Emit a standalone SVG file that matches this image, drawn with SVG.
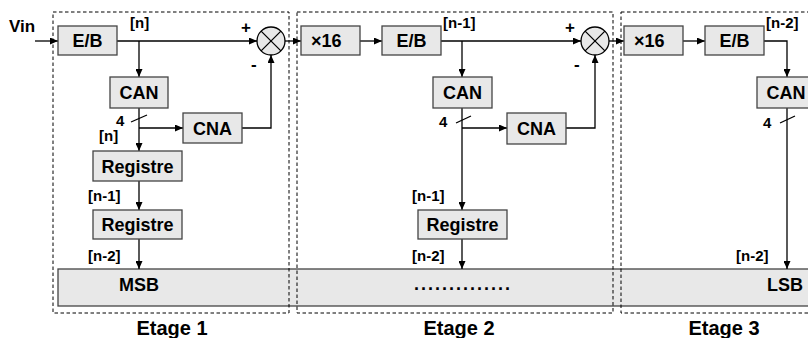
<svg xmlns="http://www.w3.org/2000/svg" width="808" height="338" viewBox="0 0 808 338">
<defs>
<marker id="ah" markerWidth="8" markerHeight="7" refX="8" refY="3.5" orient="auto" markerUnits="userSpaceOnUse">
<path d="M0,0 L8,3.5 L0,7 Z" fill="#000"/>
</marker>
<style>
.box{fill:#e8e8e8;stroke:#444;stroke-width:1.3}
.bl{font-family:"Liberation Sans",Arial,sans-serif;font-weight:bold;font-size:18px;fill:#000;text-anchor:middle}
.bs{font-family:"Liberation Sans",Arial,sans-serif;font-weight:bold;font-size:18px;fill:#000;text-anchor:start}
.lb{font-family:"Liberation Sans",Arial,sans-serif;font-weight:bold;font-size:15px;fill:#000}
.big{font-family:"Liberation Sans",Arial,sans-serif;font-weight:bold;font-size:17px;fill:#000}
.st{font-family:"Liberation Sans",Arial,sans-serif;font-weight:bold;font-size:20px;fill:#000;text-anchor:middle}
.dash{fill:none;stroke:#000;stroke-width:1;stroke-dasharray:3.5,2.5}
.c{fill:none;stroke:#000;stroke-width:1.3}
.ca{fill:none;stroke:#000;stroke-width:1.3;marker-end:url(#ah)}
.sum{fill:#e8e8e8;stroke:#000;stroke-width:1.3}
</style>
</defs>
<rect width="808" height="338" fill="#fff"/>

<g id="bus">
<rect class="box" x="58" y="269" width="770" height="37"/>
<text class="bl" x="139" y="291">MSB</text>
<text class="bl" x="463" y="290" style="letter-spacing:2px">..............</text>
<text class="bl" x="785" y="291">LSB</text>
</g>

<g id="stages">
<rect class="dash" x="53" y="12" width="236" height="301"/>
<rect class="dash" x="297" y="12" width="316" height="301"/>
<rect class="dash" x="621" y="12" width="210" height="301"/>
<text class="st" x="172" y="335">Etage 1</text>
<text class="st" x="459" y="335">Etage 2</text>
<text class="st" x="724" y="335">Etage 3</text>
</g>

<g id="connectors">
<line class="ca" x1="35" y1="41" x2="58" y2="41"/>
<line class="ca" x1="117" y1="41" x2="257" y2="41"/>
<line class="ca" x1="139" y1="41" x2="139" y2="77"/>
<line class="ca" x1="139" y1="108" x2="139" y2="151"/>
<line class="ca" x1="139" y1="128" x2="183" y2="128"/>
<polyline class="ca" points="242,128 271,128 271,55"/>
<line class="ca" x1="139" y1="181" x2="139" y2="210"/>
<line class="ca" x1="139" y1="239" x2="139" y2="269"/>
<line class="ca" x1="285" y1="41" x2="301" y2="41"/>
<line class="c" x1="131" y1="122" x2="147" y2="115"/>

<line class="ca" x1="360" y1="41" x2="382" y2="41"/>
<line class="ca" x1="441" y1="41" x2="581" y2="41"/>
<line class="ca" x1="462" y1="41" x2="462" y2="77"/>
<line class="ca" x1="462" y1="108" x2="462" y2="210"/>
<line class="ca" x1="462" y1="128" x2="507" y2="128"/>
<polyline class="ca" points="566,128 595,128 595,55"/>
<line class="ca" x1="462" y1="239" x2="462" y2="269"/>
<line class="ca" x1="609" y1="41" x2="624" y2="41"/>
<line class="c" x1="456" y1="123" x2="471" y2="116"/>

<line class="ca" x1="683" y1="41" x2="705" y2="41"/>
<polyline class="ca" points="764,41 787,41 787,77"/>
<line class="ca" x1="787" y1="108" x2="787" y2="269"/>
<line class="c" x1="780" y1="123" x2="795" y2="116"/>

<text class="big" x="9" y="32">Vin</text>
<text class="lb" x="130" y="28">[n]</text>
<text class="big" x="241" y="33">+</text>
<text class="big" x="251" y="70">-</text>
<text class="lb" x="116" y="126">4</text>
<text class="lb" x="99" y="141">[n]</text>
<text class="lb" x="88" y="201">[n-1]</text>
<text class="lb" x="88" y="261">[n-2]</text>

<text class="lb" x="443" y="28">[n-1]</text>
<text class="big" x="565" y="33">+</text>
<text class="big" x="574" y="70">-</text>
<text class="lb" x="439" y="127">4</text>
<text class="lb" x="412" y="201">[n-1]</text>
<text class="lb" x="412" y="261">[n-2]</text>

<text class="lb" x="766" y="28">[n-2]</text>
<text class="lb" x="763" y="128">4</text>
<text class="lb" x="736" y="261">[n-2]</text>
</g>

<g id="eb1"><rect class="box" x="58" y="26" width="59" height="29"/><text class="bl" x="87.5" y="47">E/B</text></g>
<g id="can1"><rect class="box" x="110" y="77" width="58" height="31"/><text class="bl" x="139" y="99">CAN</text></g>
<g id="cna1"><rect class="box" x="183" y="113" width="59" height="30"/><text class="bl" x="212.5" y="134.5">CNA</text></g>
<g id="reg1a"><rect class="box" x="93" y="151" width="89" height="30"/><text class="bl" x="137.5" y="172.5">Registre</text></g>
<g id="reg1b"><rect class="box" x="93" y="210" width="89" height="29"/><text class="bl" x="137.5" y="231">Registre</text></g>
<g id="sum1"><circle class="sum" cx="271" cy="41" r="14"/><path class="c" d="M261.1,31.1 L280.9,50.9 M280.9,31.1 L261.1,50.9"/></g>

<g id="x16b"><rect class="box" x="301" y="26" width="59" height="29"/><text class="bs" x="311" y="47">×16</text></g>
<g id="eb2"><rect class="box" x="382" y="26" width="59" height="29"/><text class="bl" x="411.5" y="47">E/B</text></g>
<g id="can2"><rect class="box" x="433" y="77" width="59" height="31"/><text class="bl" x="462.5" y="99">CAN</text></g>
<g id="cna2"><rect class="box" x="507" y="113" width="59" height="31"/><text class="bl" x="536.5" y="135">CNA</text></g>
<g id="reg2"><rect class="box" x="418" y="210" width="89" height="29"/><text class="bl" x="462.5" y="231">Registre</text></g>
<g id="sum2"><circle class="sum" cx="595" cy="41" r="14"/><path class="c" d="M585.1,31.1 L604.9,50.9 M604.9,31.1 L585.1,50.9"/></g>

<g id="x16c"><rect class="box" x="624" y="26" width="59" height="29"/><text class="bs" x="634" y="47">×16</text></g>
<g id="eb3"><rect class="box" x="705" y="26" width="59" height="29"/><text class="bl" x="734.5" y="47">E/B</text></g>
<g id="can3"><rect class="box" x="757" y="77" width="60" height="31"/><text class="bl" x="786" y="99">CAN</text></g>
</svg>
